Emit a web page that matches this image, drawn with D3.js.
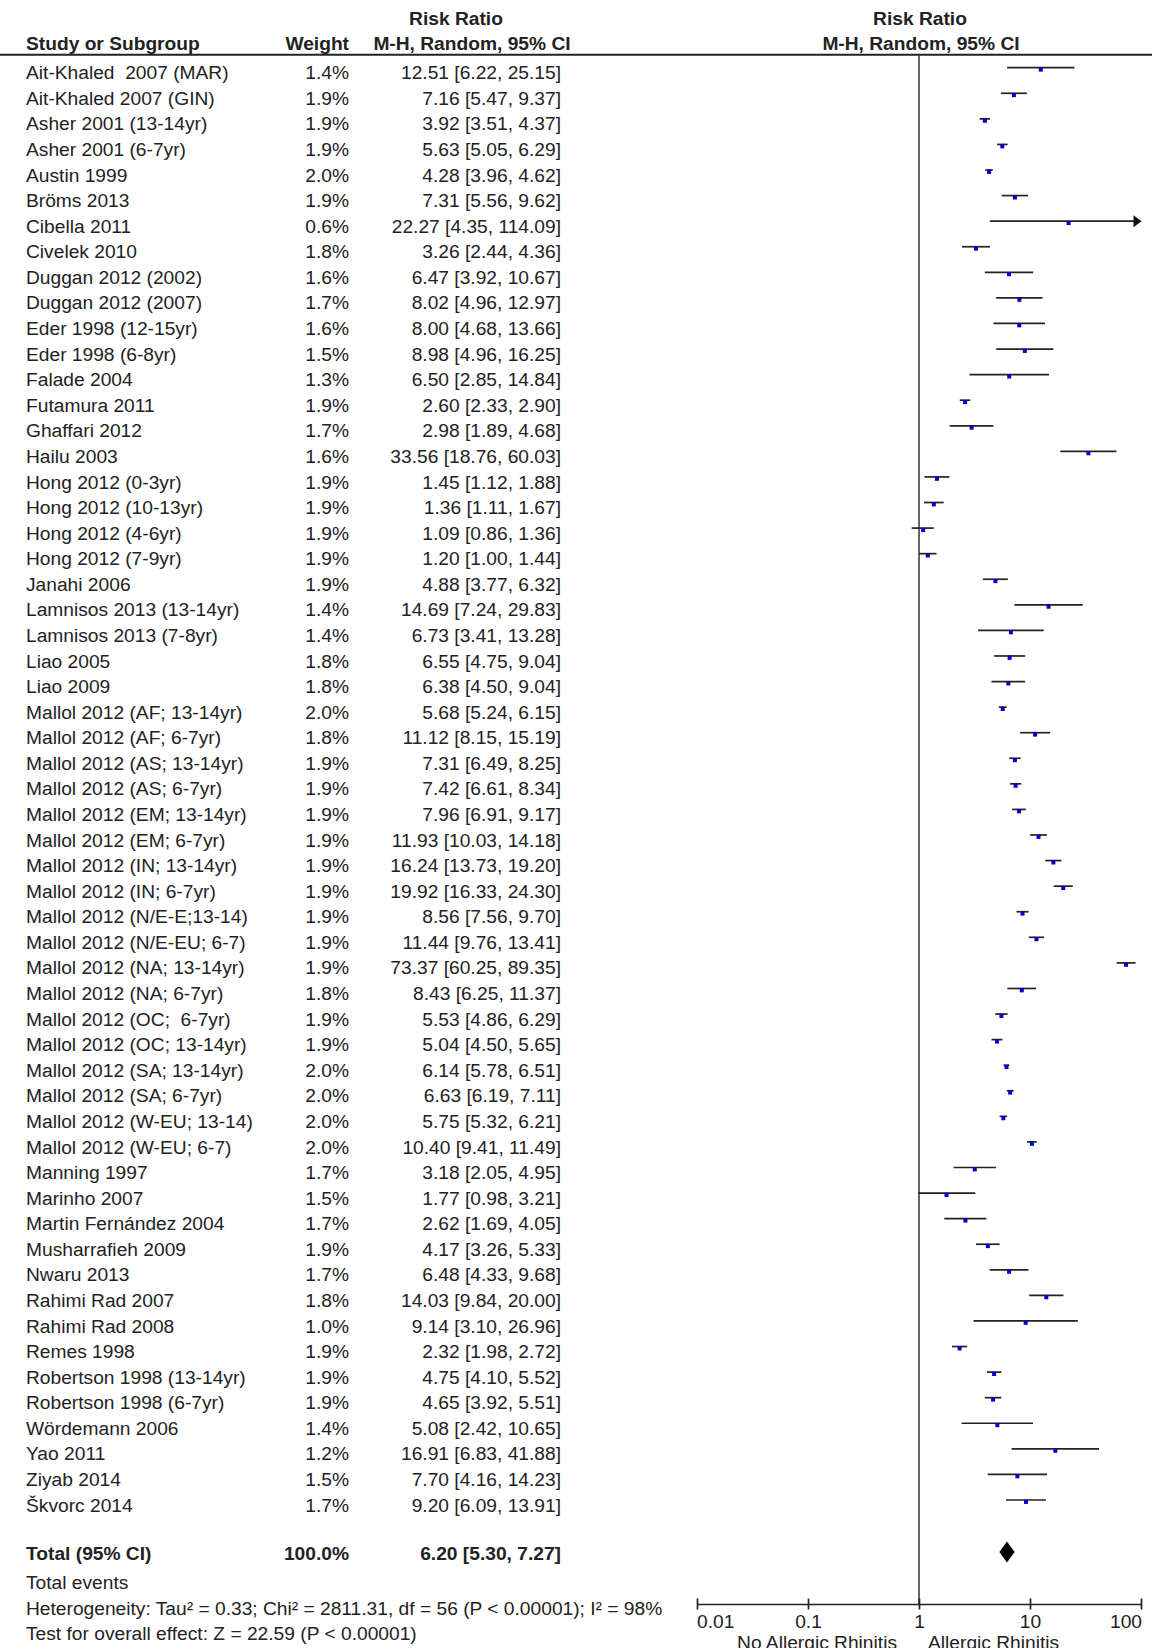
<!DOCTYPE html>
<html>
<head>
<meta charset="utf-8">
<script src="https://cdn.jsdelivr.net/npm/d3@7"></script>
<style>
  body { margin: 0; background: #fff; }
  svg { display: block; }
  text { font-family: "Liberation Sans", Arial, sans-serif; fill: #222; }
</style>
</head>
<body>
<script>
const studies = [
  "Ait-Khaled\u00a0 2007 (MAR)", "Ait-Khaled 2007 (GIN)", "Asher 2001 (13-14yr)", "Asher 2001 (6-7yr)",
  "Austin 1999", "Bröms 2013", "Cibella 2011", "Civelek 2010", "Duggan 2012 (2002)", "Duggan 2012 (2007)",
  "Eder 1998 (12-15yr)", "Eder 1998 (6-8yr)", "Falade 2004", "Futamura 2011", "Ghaffari 2012", "Hailu 2003",
  "Hong 2012 (0-3yr)", "Hong 2012 (10-13yr)", "Hong 2012 (4-6yr)", "Hong 2012 (7-9yr)", "Janahi 2006",
  "Lamnisos 2013 (13-14yr)", "Lamnisos 2013 (7-8yr)", "Liao 2005", "Liao 2009",
  "Mallol 2012 (AF; 13-14yr)", "Mallol 2012 (AF; 6-7yr)", "Mallol 2012 (AS; 13-14yr)", "Mallol 2012 (AS; 6-7yr)",
  "Mallol 2012 (EM; 13-14yr)", "Mallol 2012 (EM; 6-7yr)", "Mallol 2012 (IN; 13-14yr)", "Mallol 2012 (IN; 6-7yr)",
  "Mallol 2012 (N/E-E;13-14)", "Mallol 2012 (N/E-EU; 6-7)", "Mallol 2012 (NA; 13-14yr)", "Mallol 2012 (NA; 6-7yr)",
  "Mallol 2012 (OC;\u00a0 6-7yr)", "Mallol 2012 (OC; 13-14yr)", "Mallol 2012 (SA; 13-14yr)", "Mallol 2012 (SA; 6-7yr)",
  "Mallol 2012 (W-EU; 13-14)", "Mallol 2012 (W-EU; 6-7)", "Manning 1997", "Marinho 2007", "Martin Fernández 2004",
  "Musharrafieh 2009", "Nwaru 2013", "Rahimi Rad 2007", "Rahimi Rad 2008", "Remes 1998",
  "Robertson 1998 (13-14yr)", "Robertson 1998 (6-7yr)", "Wördemann 2006", "Yao 2011", "Ziyab 2014", "Škvorc 2014"
];
const weights = [1.4,1.9,1.9,1.9,2.0,1.9,0.6,1.8,1.6,1.7,1.6,1.5,1.3,1.9,1.7,1.6,1.9,1.9,1.9,1.9,1.9,1.4,1.4,1.8,1.8,
  2.0,1.8,1.9,1.9,1.9,1.9,1.9,1.9,1.9,1.9,1.9,1.8,1.9,1.9,2.0,2.0,2.0,2.0,1.7,1.5,1.7,1.9,1.7,1.8,1.0,1.9,1.9,1.9,1.4,1.2,1.5,1.7];
const rr = [12.51,7.16,3.92,5.63,4.28,7.31,22.27,3.26,6.47,8.02,8.00,8.98,6.50,2.60,2.98,33.56,1.45,1.36,1.09,1.20,4.88,14.69,6.73,6.55,6.38,
  5.68,11.12,7.31,7.42,7.96,11.93,16.24,19.92,8.56,11.44,73.37,8.43,5.53,5.04,6.14,6.63,5.75,10.40,3.18,1.77,2.62,4.17,6.48,14.03,9.14,2.32,4.75,4.65,5.08,16.91,7.70,9.20];
const lo = [6.22,5.47,3.51,5.05,3.96,5.56,4.35,2.44,3.92,4.96,4.68,4.96,2.85,2.33,1.89,18.76,1.12,1.11,0.86,1.00,3.77,7.24,3.41,4.75,4.50,
  5.24,8.15,6.49,6.61,6.91,10.03,13.73,16.33,7.56,9.76,60.25,6.25,4.86,4.50,5.78,6.19,5.32,9.41,2.05,0.98,1.69,3.26,4.33,9.84,3.10,1.98,4.10,3.92,2.42,6.83,4.16,6.09];
const hi = [25.15,9.37,4.37,6.29,4.62,9.62,114.09,4.36,10.67,12.97,13.66,16.25,14.84,2.90,4.68,60.03,1.88,1.67,1.36,1.44,6.32,29.83,13.28,9.04,9.04,
  6.15,15.19,8.25,8.34,9.17,14.18,19.20,24.30,9.70,13.41,89.35,11.37,6.29,5.65,6.51,7.11,6.21,11.49,4.95,3.21,4.05,5.33,9.68,20.00,26.96,2.72,5.52,5.51,10.65,41.88,14.23,13.91];
const total = { label: "Total (95% CI)", weight: 100.0, rr: 6.20, lo: 5.30, hi: 7.27 };
const footer = [
  "Total events",
  "Heterogeneity: Tau\u00b2 = 0.33; Chi\u00b2 = 2811.31, df = 56 (P < 0.00001); I\u00b2 = 98%",
  "Test for overall effect: Z = 22.59 (P < 0.00001)"
];
const axisTicks = [0.01, 0.1, 1, 10, 100];
const axisTickLabels = ["0.01", "0.1", "1", "10", "100"];
const favourLeft = "No Allergic Rhinitis";
const favourRight = "Allergic Rhinitis";

const W = 1152, H = 1648;
const FS = 19.2;
const svg = d3.select("body").append("svg").attr("width", W).attr("height", H);

const x = d3.scaleLog().domain([0.01, 100]).range([697, 1141]);
const rowBase = d3.scaleLinear().domain([0, 56]).range([79.3, 1511.6]);
const lineOff = -11.6;

// header
const hdr = svg.append("g").attr("font-weight", "bold").attr("font-size", FS);
hdr.append("text").attr("x", 456).attr("y", 24.5).attr("text-anchor", "middle").text("Risk Ratio");
hdr.append("text").attr("x", 26).attr("y", 49.8).text("Study or Subgroup");
hdr.append("text").attr("x", 349).attr("y", 49.8).attr("text-anchor", "end").text("Weight");
hdr.append("text").attr("x", 472).attr("y", 49.8).attr("text-anchor", "middle").text("M-H, Random, 95% CI");
hdr.append("text").attr("x", 920).attr("y", 24.5).attr("text-anchor", "middle").text("Risk Ratio");
hdr.append("text").attr("x", 921).attr("y", 49.8).attr("text-anchor", "middle").text("M-H, Random, 95% CI");
svg.append("line").attr("x1", 0).attr("x2", W).attr("y1", 54.7).attr("y2", 54.7)
  .attr("stroke", "#222").attr("stroke-width", 2);

const axisY = 1604;
// null line
svg.append("line").attr("x1", x(1)).attr("x2", x(1)).attr("y1", 55).attr("y2", axisY)
  .attr("stroke", "#333").attr("stroke-width", 1.5);

const fmt = v => v.toFixed(2);
const rows = svg.append("g").attr("font-size", FS);
studies.forEach((s, i) => {
  const yb = rowBase(i);
  rows.append("text").attr("x", 26).attr("y", yb).text(s);
  rows.append("text").attr("x", 349).attr("y", yb).attr("text-anchor", "end").text(weights[i].toFixed(1) + "%");
  rows.append("text").attr("x", 561).attr("y", yb).attr("text-anchor", "end")
    .text(`${fmt(rr[i])} [${fmt(lo[i])}, ${fmt(hi[i])}]`);
});

// CI lines
const plot = svg.append("g");
studies.forEach((s, i) => {
  const yl = rowBase(i) + lineOff;
  const [d0, d1] = x.domain();
  const a = Math.max(lo[i], d0), b = Math.min(hi[i], d1);
  const clipped = hi[i] > d1;
  plot.append("line").attr("x1", x(a)).attr("x2", clipped ? x(b) - 6 : x(b))
    .attr("y1", yl).attr("y2", yl).attr("stroke", "#222").attr("stroke-width", 1.7);
  if (clipped) {
    const tx = x(b) + 0.5;
    plot.append("path").attr("d", `M${tx},${yl} L${tx - 8},${yl - 6} L${tx - 8},${yl + 6} Z`).attr("fill", "#111");
  }
  plot.append("rect").attr("x", x(rr[i]) - 2).attr("y", yl - 0.3).attr("width", 4).attr("height", 4.2)
    .attr("fill", "#0000cc");
});

// total row
const totBase = 1560;
const tg = svg.append("g").attr("font-size", FS).attr("font-weight", "bold");
tg.append("text").attr("x", 26).attr("y", totBase).text(total.label);
tg.append("text").attr("x", 349).attr("y", totBase).attr("text-anchor", "end").text(total.weight.toFixed(1) + "%");
tg.append("text").attr("x", 561).attr("y", totBase).attr("text-anchor", "end")
  .text(`${fmt(total.rr)} [${fmt(total.lo)}, ${fmt(total.hi)}]`);
const dy = 1552, dh = 10.5;
svg.append("path")
  .attr("d", `M${x(total.lo)},${dy} L${x(total.rr)},${dy - dh} L${x(total.hi)},${dy} L${x(total.rr)},${dy + dh} Z`)
  .attr("fill", "#000");

// footer
const footY = [1589, 1614.5, 1640];
footer.forEach((t, i) => {
  svg.append("text").attr("x", 26).attr("y", footY[i]).attr("font-size", FS).text(t);
});

// axis
const ax = svg.append("g").attr("transform", `translate(0,${axisY})`);
ax.call(d3.axisBottom(x).tickValues(axisTicks).tickSize(0).tickFormat(""));
ax.select(".domain").attr("stroke", "#222").attr("stroke-width", 1.7);
ax.selectAll(".tick").append("line").attr("y1", -5.5).attr("y2", 5.5).attr("stroke", "#222").attr("stroke-width", 1.7);
ax.selectAll(".tick").each(function(d, i) {
  d3.select(this).append("text")
    .attr("y", 24).attr("font-size", FS).attr("fill", "#222").attr("stroke", "none")
    .attr("font-family", '"Liberation Sans", Arial, sans-serif')
    .attr("text-anchor", i === 0 ? "start" : (i === axisTicks.length - 1 ? "end" : "middle"))
    .attr("dx", i === 0 ? -0.5 : (i === axisTicks.length - 1 ? 0.5 : 0))
    .text(axisTickLabels[i]);
});
svg.append("text").attr("x", x(1) - 22).attr("y", 1649).attr("text-anchor", "end").attr("font-size", FS).text(favourLeft);
svg.append("text").attr("x", x(1) + 9).attr("y", 1649).attr("text-anchor", "start").attr("font-size", FS).text(favourRight);
</script>
</body>
</html>
